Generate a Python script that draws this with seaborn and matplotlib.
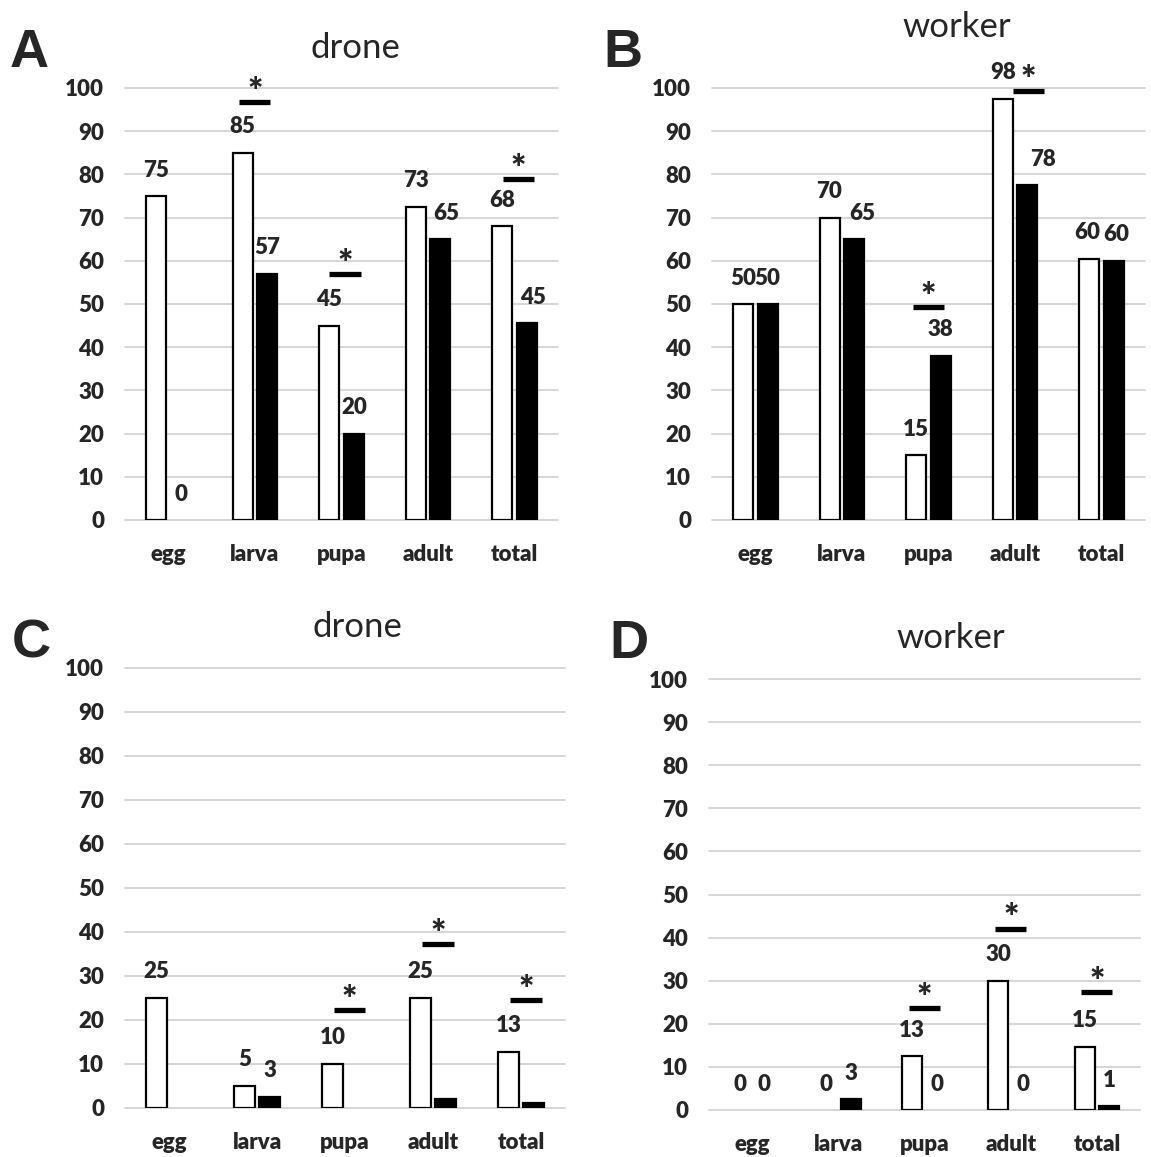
import numpy as np
import pandas as pd
import matplotlib
matplotlib.use("Agg")
import matplotlib.pyplot as plt
import seaborn as sns

STAGES = ["egg", "larva", "pupa", "adult", "total"]
GROUPS = ["open", "filled"]

# panel A - drone
A_OPEN = [75, 85, 45, 72.5, 68]
A_FILLED = [0, 57, 20, 65, 45.5]
A_OPEN_LBL = ["75", "85", "45", "73", "68"]
A_FILLED_LBL = ["0", "57", "20", "65", "45"]
A_SIG = [(1, 96.8), (2, 57.0), (4, 79.0)]

# panel B - worker
B_OPEN = [50, 70, 15, 97.5, 60.5]
B_FILLED = [50, 65, 38, 77.5, 60]
B_OPEN_LBL = ["50", "70", "15", "98", "60"]
B_FILLED_LBL = ["50", "65", "38", "78", "60"]
B_SIG = [(2, 49.3), (3, 99.4)]

# panel C - drone
C_OPEN = [25, 5, 10, 25, 12.7]
C_FILLED = [0, 2.5, 0, 2.1, 1.2]
C_OPEN_LBL = ["25", "5", "10", "25", "13"]
C_FILLED_LBL = ["", "3", "", "", ""]
C_SIG = [(2, 22.3), (3, 37.3), (4, 24.6)]

# panel D - worker
D_OPEN = [0, 0, 12.5, 30, 14.7]
D_FILLED = [0, 2.5, 0, 0, 0.9]
D_OPEN_LBL = ["0", "0", "13", "30", "15"]
D_FILLED_LBL = ["0", "3", "0", "0", "1"]
D_SIG = [(2, 23.6), (3, 42.1), (4, 27.3)]

TITLES = {"A": "drone", "B": "worker", "C": "drone", "D": "worker"}

FONT = "Lato"
WEIGHT = "heavy"
W, H = 1151, 1157

# axes rectangles in pixels: left, right, y of 0, y of 100
RECTS = {
    "A": (125, 558, 520, 88),
    "B": (712, 1145, 520, 88),
    "C": (125, 565, 1108, 668),
    "D": (709, 1140, 1110, 679),
}
TITLE_POS = {"A": (355, 58), "B": (957, 37), "C": (357, 637), "D": (951, 648)}
LETTER_POS = {"A": (29, 67), "B": (623, 67), "C": (31, 658), "D": (629, 658)}
# small sideways nudges of value labels (panel, stage index, group index) -> x units
NUDGE = {("A", 3, 1): 0.07, ("A", 4, 1): 0.07, ("B", 1, 1): 0.09, ("B", 3, 1): 0.18,
         ("B", 4, 0): -0.03, ("B", 4, 1): 0.03}
SIG_SHIFT = {"A": {2: 0.04, 4: 0.04}, "B": {3: 0.15}, "C": {2: 0.05, 3: 0.06, 4: 0.06}}


def make_df(open_vals, filled_vals):
    return pd.DataFrame({
        "stage": STAGES * 2,
        "group": ["open"] * 5 + ["filled"] * 5,
        "value": list(open_vals) + list(filled_vals),
    })


def draw_panel(fig, key, open_vals, filled_vals, open_lbl, filled_lbl, sig):
    left, right, y0, y100 = RECTS[key]
    ax = fig.add_axes([left / W, 1 - y0 / H, (right - left) / W, (y0 - y100) / H])
    df = make_df(open_vals, filled_vals)
    sns.barplot(data=df, x="stage", y="value", hue="group", hue_order=GROUPS,
                order=STAGES, palette={"open": "white", "filled": "black"},
                width=0.57, gap=0.19, edgecolor="black", linewidth=1.6,
                saturation=1, errorbar=None, legend=False, ax=ax)
    for p in ax.patches:
        if p.get_height() == 0:
            p.set_linewidth(0)
    ax.set_xlim(-0.5, 4.5)
    ax.set_ylim(0, 100)
    ax.set_yticks(np.arange(0, 101, 10))
    ax.grid(axis="y", color="#d3d3d3", linewidth=1.3)
    for gl in ax.get_ygridlines():
        gl.set_clip_on(False)
    ax.set_axisbelow(True)
    for s in ax.spines.values():
        s.set_visible(False)
    ax.tick_params(length=0, labelsize=16)
    ax.tick_params(axis="y", pad=15)
    ax.tick_params(axis="x", pad=17)
    for t in ax.get_xticklabels() + ax.get_yticklabels():
        t.set_fontweight(WEIGHT)
        t.set_family(FONT)
    ax.set_xlabel("")
    ax.set_ylabel("")

    labels = [open_lbl, filled_lbl]
    values = [open_vals, filled_vals]
    for g, cont in enumerate(ax.containers):
        for i, bar in enumerate(cont):
            txt = labels[g][i]
            if not txt:
                continue
            x = bar.get_x() + bar.get_width() / 2 + NUDGE.get((key, i, g), 0)
            ax.text(x, values[g][i] + 6, txt, ha="center", va="center",
                    fontsize=16, fontweight=WEIGHT, family=FONT, clip_on=False)

    for idx, h in sig:
        xc = idx + SIG_SHIFT.get(key, {}).get(idx, 0)
        ax.plot([xc - 0.18, xc + 0.18], [h, h], color="black", lw=3.8,
                solid_capstyle="butt", clip_on=False)
        ax.text(xc, h - 0.2, "*", ha="center", va="baseline", fontsize=26,
                fontweight=WEIGHT, family=FONT, clip_on=False)

    tx, ty = TITLE_POS[key]
    fig.text(tx / W, 1 - ty / H, TITLES[key], ha="center", va="baseline",
             fontsize=25, family=FONT)
    lx, ly = LETTER_POS[key]
    fig.text(lx / W, 1 - ly / H, key, ha="center", va="baseline",
             fontsize=39, fontweight="bold", family="Liberation Sans")
    return ax


sns.set_theme(style="white")
plt.rcParams["font.family"] = [FONT, "DejaVu Sans"]

fig = plt.figure(figsize=(W / 100, H / 100), dpi=100)
draw_panel(fig, "A", A_OPEN, A_FILLED, A_OPEN_LBL, A_FILLED_LBL, A_SIG)
draw_panel(fig, "B", B_OPEN, B_FILLED, B_OPEN_LBL, B_FILLED_LBL, B_SIG)
draw_panel(fig, "C", C_OPEN, C_FILLED, C_OPEN_LBL, C_FILLED_LBL, C_SIG)
draw_panel(fig, "D", D_OPEN, D_FILLED, D_OPEN_LBL, D_FILLED_LBL, D_SIG)
fig.savefig("out.png", dpi=100, facecolor="white")
